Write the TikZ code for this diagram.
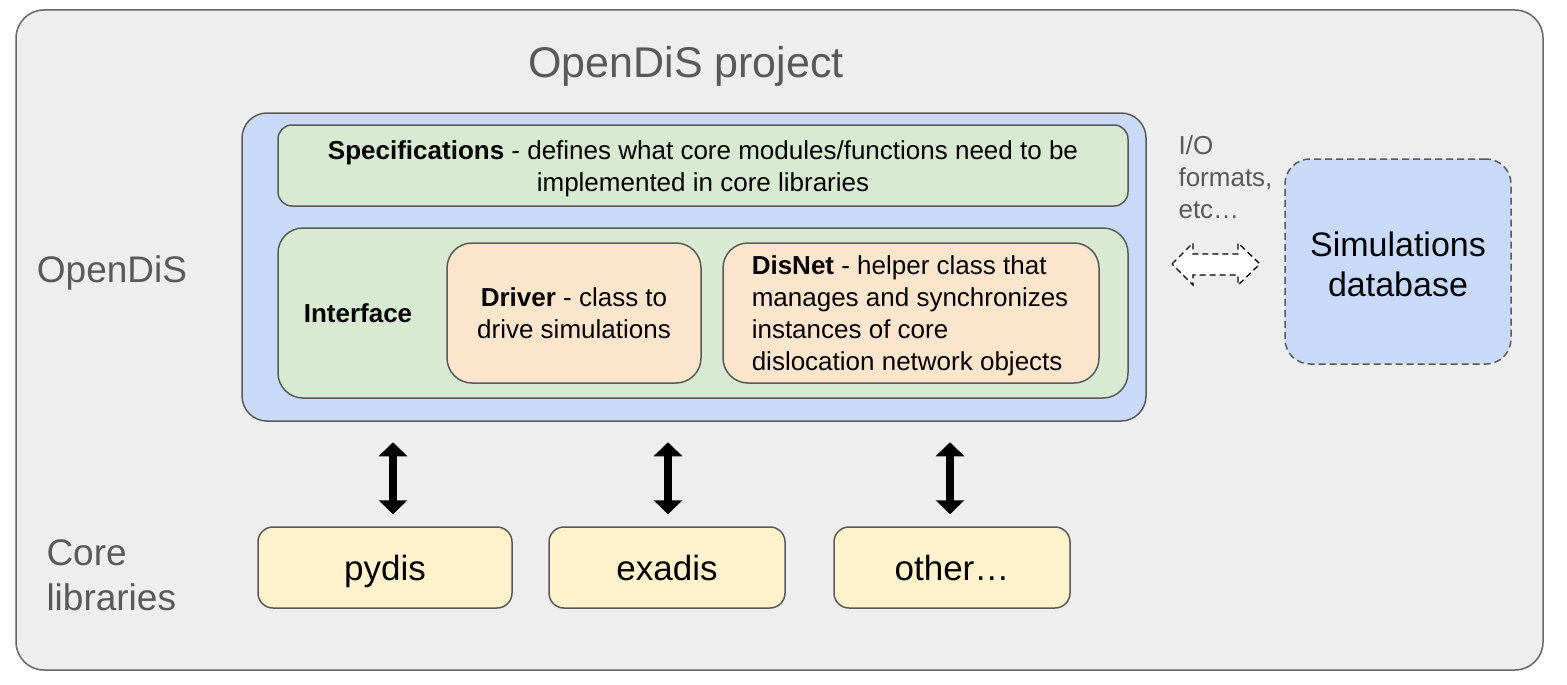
\documentclass[tikz,border=0pt]{standalone}
\usepackage{fontspec}
\setmainfont{Liberation Sans}
\usetikzlibrary{arrows.meta,calc}
\definecolor{bggray}{HTML}{EEEEEE}
\definecolor{framegray}{HTML}{666666}
\definecolor{labelgray}{HTML}{595959}
\definecolor{opblue}{HTML}{C9DAF8}
\definecolor{specgreen}{HTML}{D9EAD3}
\definecolor{classorange}{HTML}{FCE5CD}
\definecolor{libyellow}{HTML}{FFF2CC}
\tikzset{rounded box/.style={
        draw=labelgray, line width=1.5pt, rounded corners=#1, inner sep=0pt
    },
    body text/.style={font=\fontsize{26}{32}\selectfont, align=center},
    side label/.style={font=\fontsize{37}{45}\selectfont, text=labelgray, align=left},
    lib box/.style={rounded box=15pt, fill=libyellow, minimum height=81pt,
        font=\fontsize{35}{40}\selectfont, text height=32pt, text depth=7pt},
    big arrow/.style={line width=8pt,
        {Triangle[width=28pt,length=14pt]}-{Triangle[width=28pt,length=14pt]}},
    dash line/.style={dash pattern=on 7pt off 4pt}
}

\begin{document}
\begin{tikzpicture}[x=1pt,y=-1pt]
        \useasboundingbox (0,0) rectangle (1567,685);
        \node[rounded box=28pt, fill=bggray, draw=framegray, minimum width=1527pt, minimum height=660pt] (project) at (779.5,340) {};
        \node[font=\fontsize{43}{50}\selectfont, text=labelgray] (title) at (686,66) {OpenDiS project};
        \node[side label] (opendislabel) at (112,273) {OpenDiS};
        \node[side label, anchor=west] (corelabel) at (43,575) {Core\\libraries};
        % OpenDiS block
        \node[rounded box=25pt, fill=opblue, minimum width=904pt, minimum height=308pt] (opendis) at (694,267) {};
        \node[rounded box=14pt, fill=specgreen, minimum width=850pt, minimum height=81pt] (spec) at (703,165.5) {};
        \node[body text] (spectext) at ($(spec.center)+(0,3)$)
            {\textbf{Specifications} - defines what core modules/functions need to be\\implemented in core libraries};
        \node[rounded box=25pt, fill=specgreen, minimum width=850pt, minimum height=170pt] (iface) at (703,313) {};
        \node[body text] (ifacelabel) at (358,313) {\textbf{Interface}};
        \node[rounded box=25pt, fill=classorange, minimum width=254pt, minimum height=140pt, body text] (driver) at (574,313)
            {\textbf{Driver} - class to\\drive simulations};
        \node[rounded box=25pt, fill=classorange, minimum width=376pt, minimum height=140pt] (disnet) at (911,313) {};
        \node[body text, align=left, anchor=west] (disnettext) at ($(disnet.west)+(26,3)$)
            {\textbf{DisNet} - helper class that\\manages and synchronizes\\instances of core\\dislocation network objects};
        % core libraries
        \node[lib box, minimum width=254pt] (pydis) at (385,567.5) {pydis};
        \node[lib box, minimum width=236pt] (exadis) at (667,567.5) {exadis};
        \node[lib box, minimum width=236pt] (other) at (952,567.5) {other\ldots};
        \draw[big arrow] ($(pydis.north)+(8,-84)$) -- ($(pydis.north)+(8,-12)$);
        \draw[big arrow] ($(exadis.north)+(1,-84)$) -- ($(exadis.north)+(1,-12)$);
        \draw[big arrow] ($(other.north)+(-2,-84)$) -- ($(other.north)+(-2,-12)$);
        % database
        \node[rounded box=25pt, dash line, fill=opblue, minimum width=226pt, minimum height=205pt] (db) at (1398,261.5) {};
        \node[font=\fontsize{34}{40}\selectfont, align=center] (dbtext) at ($(db.center)+(0,3)$) {Simulations\\database};
        \node[body text, text=labelgray, align=left, anchor=west] (io) at (1175,177) {I/O\\formats,\\etc\ldots};
        \draw[black, line width=1.3pt, dash pattern=on 6pt off 4pt, fill=white] (1172,264) -- (1193,243) -- (1193,254) -- (1238,254)
            -- (1238,243) -- (1260,264) -- (1238,285) -- (1238,275) -- (1193,275) -- (1193,285) -- cycle;
    \end{tikzpicture}
\end{document}
